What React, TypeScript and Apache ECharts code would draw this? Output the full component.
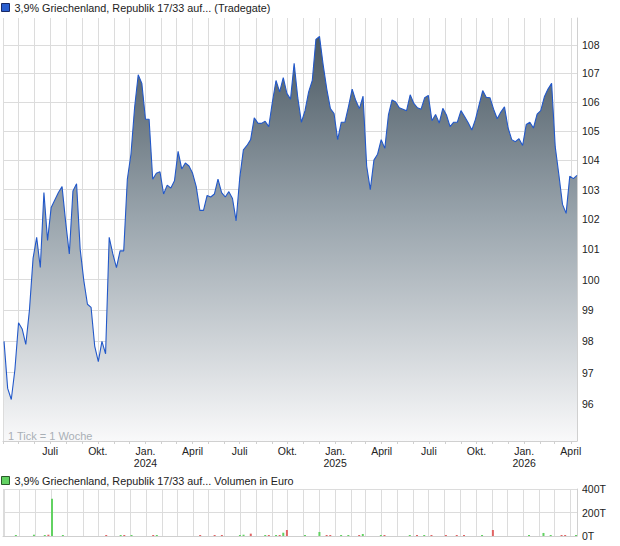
import React, { useEffect, useRef } from 'react';
import * as echarts from 'echarts';

const priceName = '3,9% Griechenland, Republik 17/33 auf... (Tradegate)';
const volumeName = '3,9% Griechenland, Republik 17/33 auf... Volumen in Euro';
const footNote = '1 Tick = 1 Woche';

// first weekly observation (year, monthIndex, day) and axis range
const firstWeek = [2023, 3, 3];
const axisStart = [2023, 3, 1];
const axisEnd = [2026, 3, 13];

// weekly closing prices
const prices = [
  98.0, 96.5, 96.15, 97.1, 98.6, 98.4, 97.9, 99.0, 100.7, 101.4,
  100.4, 102.9, 101.3, 102.4, 102.65, 102.9, 103.1, 101.9, 100.85, 102.95,
  103.2, 101.0, 99.97, 99.2, 99.1, 97.85, 97.35, 98.0, 97.6, 101.4,
  100.85, 100.4, 100.95, 100.95, 103.35, 104.2, 105.8, 106.95, 106.65, 105.4,
  105.4, 103.35, 103.55, 103.6, 102.85, 103.15, 103.05, 103.3, 104.3, 103.7,
  103.9, 103.8, 103.55, 103.1, 102.3, 102.3, 102.8, 102.75, 102.85, 103.35,
  102.9, 102.75, 102.93, 102.7, 101.95, 103.4, 104.35, 104.5, 104.7, 105.45,
  105.27, 105.26, 105.33, 105.15, 106.0, 106.75, 106.35, 106.85, 106.3, 106.1,
  107.35, 106.15, 105.3, 105.7, 106.35, 106.75, 108.2, 108.3, 107.3, 106.45,
  105.77, 105.6, 104.7, 105.3, 105.3, 105.85, 106.45, 106.05, 105.77, 106.2,
  103.8, 103.0, 104.0, 104.2, 104.7, 104.4, 105.55, 106.07, 106.0, 105.8,
  105.75, 105.7, 106.25, 105.95, 105.8, 105.75, 106.15, 106.23, 105.35, 105.57,
  105.27, 105.78, 105.55, 105.15, 105.3, 105.3, 105.7, 105.5, 105.28, 105.03,
  105.4, 105.9, 106.4, 106.16, 106.15, 105.75, 105.42, 105.65, 105.83, 105.1,
  104.7, 104.63, 104.73, 104.5, 105.22, 105.3, 105.1, 105.58, 105.7, 106.18,
  106.45, 106.65, 104.45, 103.5, 102.5, 102.2, 103.45, 103.37, 103.48,
];

// weekly volumes (only weeks with turnover), in thousand Euro
const volWeeks = [
  3, 8, 11, 12, 13, 16, 28, 32, 33, 35, 41, 42, 54, 58, 60, 65, 66, 68, 72, 73,
  75, 76, 77, 78, 83, 87, 89, 90, 93, 95, 98, 99, 104, 105, 112, 114, 116, 118, 122, 125,
  127, 132, 135, 145, 149, 151, 154, 155, 158,
];
const volValues = [
  5, 11, 3, 11, 317, 3, 3, 3, 3, 3, 3, 3, 3, 3, 3, 3, 11, 20, 8, 8,
  3, 3, 28, 51, 3, 34, 3, 3, 3, 8, 3, 17, 3, 3, 3, 3, 3, 3, 3, 3,
  3, 8, 51, 3, 26, 3, 8, 8, 3,
];
const volUp = [
  1, 1, 1, 0, 1, 1, 0, 1, 0, 1, 0, 1, 0, 0, 0, 1, 1, 0, 1, 0,
  1, 0, 1, 0, 1, 1, 0, 0, 1, 1, 0, 1, 1, 0, 1, 0, 1, 0, 0, 0,
  0, 1, 0, 1, 1, 1, 0, 0, 1,
];

const priceTicks = [96, 97, 98, 99, 100, 101, 102, 103, 104, 105, 106, 107, 108];
const priceMin = 94.85;
const priceMax = 108.96;
const volTickLabels = ['0T', '200T', '400T'];
const volMax = 400000;
const volInterval = 200000;
const quarterNames = ['Jan.', 'April', 'Juli', 'Okt.'];

const FONT = "'Liberation Sans', Arial, sans-serif";
const DAY = 86400000;

function weekTime(k: number) {
  return new Date(firstWeek[0], firstWeek[1], firstWeek[2] + 7 * k).getTime();
}

export default function App() {
  const ref = useRef<HTMLDivElement>(null);

  useEffect(() => {
    document.body.style.margin = '0';
    if (!ref.current) return;
    const chart = echarts.init(ref.current, undefined, { renderer: 'svg' });

    const minT = new Date(axisStart[0], axisStart[1], axisStart[2]).getTime();
    const maxT = new Date(axisEnd[0], axisEnd[1], axisEnd[2]).getTime();

    const green = '#62d262';
    const red = '#e06464';
    const grid = '#dcdcdc';

    const quarterLabel = (v: number) => {
      if (v <= minT || v >= maxT) return '';
      const d = new Date(v);
      const m = d.getMonth();
      if (d.getDate() !== 1 || m % 3 !== 0) return '';
      const name = quarterNames[m / 3];
      return m === 0 ? name + '\n' + d.getFullYear() : name;
    };

    chart.setOption({
      animation: false,
      textStyle: { fontFamily: FONT },
      title: {
        text: footNote, left: 8, top: 430, padding: 0,
        textStyle: { color: '#a9afb6', fontSize: 11, fontWeight: 'normal', fontFamily: FONT },
      },
      legend: [
        {
          left: 1, top: 2, padding: 0, itemWidth: 8, itemHeight: 8, selectedMode: false,
          textStyle: { fontSize: 10.8, color: '#222', fontFamily: FONT },
          data: [{ name: priceName, icon: 'rect', itemStyle: { color: '#2a5fd0', borderColor: '#1a2a66', borderWidth: 1 } }],
        },
        {
          left: 1, top: 475, padding: 0, itemWidth: 8, itemHeight: 8, selectedMode: false,
          textStyle: { fontSize: 10.8, color: '#222', fontFamily: FONT },
          data: [{ name: volumeName, icon: 'rect', itemStyle: { color: green, borderColor: '#2a5a2a', borderWidth: 1 } }],
        },
      ],
      grid: [
        { left: 3, right: 43, top: 18, bottom: 105 },
        { left: 3, right: 43, top: 489, bottom: 10 },
      ],
      xAxis: [
        {
          type: 'time', gridIndex: 0, min: minT, max: maxT,
          minInterval: 28 * DAY, maxInterval: 31 * DAY,
          axisLine: { show: true, lineStyle: { color: '#d0d0d0' } },
          axisTick: { show: true, length: 3, lineStyle: { color: '#d0d0d0' } },
          splitLine: { show: true, lineStyle: { color: grid } },
          axisLabel: {
            margin: 4, fontSize: 10.5, color: '#222', lineHeight: 12, fontFamily: FONT,
            showMinLabel: false, showMaxLabel: false, hideOverlap: false,
            fontWeight: 'normal',
            formatter: (v: number) => quarterLabel(v),
          },
        },
        {
          type: 'time', gridIndex: 1, min: minT, max: maxT,
          minInterval: 28 * DAY, maxInterval: 31 * DAY,
          axisLine: { show: true, lineStyle: { color: '#cfcfcf' } },
          axisTick: { show: false },
          splitLine: { show: true, lineStyle: { color: grid } },
          axisLabel: { show: false },
        },
      ],
      yAxis: [
        {
          type: 'log', gridIndex: 0, position: 'right', min: priceMin, max: priceMax,
          axisLine: { show: true, lineStyle: { color: '#d0d0d0' } },
          axisTick: { show: false, customValues: priceTicks },
          splitLine: { show: true, lineStyle: { color: grid } },
          axisLabel: {
            customValues: priceTicks, margin: 5, fontSize: 10.5, color: '#222', fontFamily: FONT,
            formatter: (v: number) => String(Math.round(v)),
          },
        },
        {
          type: 'value', gridIndex: 1, position: 'right', min: 0, max: volMax, interval: volInterval,
          axisLine: { show: true, lineStyle: { color: '#d0d0d0' } },
          axisTick: { show: false },
          splitLine: { show: true, lineStyle: { color: grid } },
          axisLabel: {
            margin: 5, fontSize: 10.5, color: '#222', fontFamily: FONT,
            formatter: (v: number) => volTickLabels[Math.round(v / volInterval)] ?? '',
          },
        },
      ],
      series: [
        {
          name: priceName, type: 'line', xAxisIndex: 0, yAxisIndex: 0,
          data: prices.map((p, k) => [weekTime(k), p]),
          showSymbol: false, symbol: 'none',
          lineStyle: { color: '#2258c9', width: 1.1 },
          itemStyle: { color: '#2258c9' },
          areaStyle: {
            color: new echarts.graphic.LinearGradient(0, 0, 0, 1, [
              { offset: 0, color: '#4a5862' },
              { offset: 0.45, color: '#9aa5ad' },
              { offset: 1, color: '#f9f9fa' },
            ]),
            opacity: 1,
          },
        },
        {
          name: volumeName, type: 'bar', xAxisIndex: 1, yAxisIndex: 1,
          barWidth: 2, barMinHeight: 1,
          itemStyle: { color: green },
          data: volWeeks.map((w, i) => ({
            value: [weekTime(w), volValues[i] * 1000],
            itemStyle: { color: volUp[i] ? green : red },
          })),
        },
      ],
    });

    return () => chart.dispose();
  }, []);

  return <div ref={ref} style={{ position: 'absolute', left: 0, top: 0, width: 620, height: 546 }} />;
}
